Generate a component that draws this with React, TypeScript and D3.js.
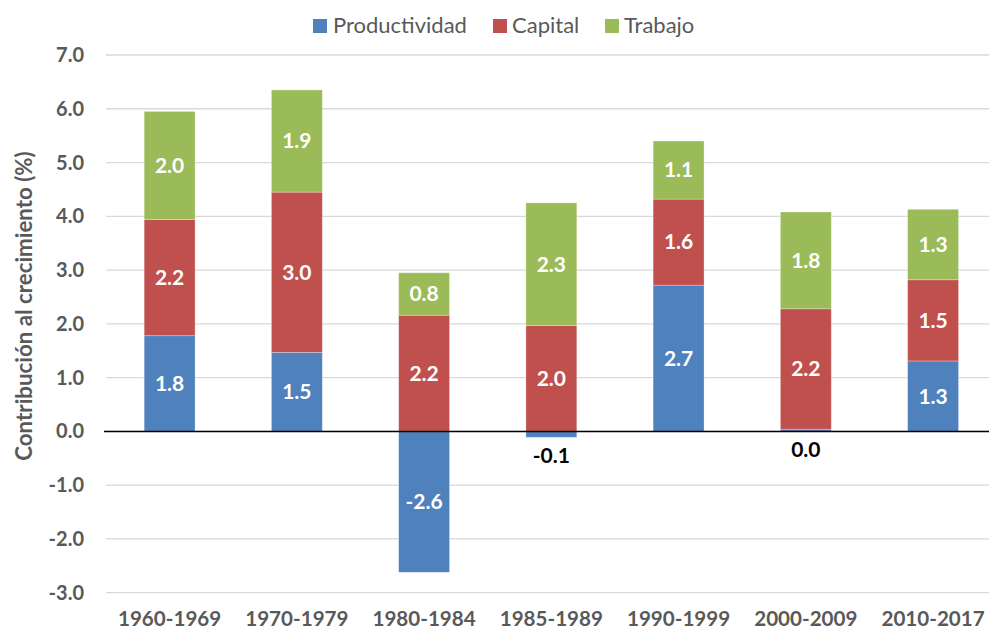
import React from "react";
import * as d3 from "d3";

const categories = ["1960-1969", "1970-1979", "1980-1984", "1985-1989", "1990-1999", "2000-2009", "2010-2017"];
const productividad = [1.78, 1.47, -2.62, -0.11, 2.72, 0.04, 1.31];
const capital = [2.16, 2.98, 2.16, 1.97, 1.6, 2.24, 1.51];
const trabajo = [2.01, 1.9, 0.79, 2.28, 1.08, 1.8, 1.31];
const yTicks = [-3, -2, -1, 0, 1, 2, 3, 4, 5, 6, 7];
const seriesNames = ["Productividad", "Capital", "Trabajo"];
const colors = ["#4F81BD", "#C0504D", "#9BBB59"];

const W = 989;
const H = 632;
const FONT = "Lato, 'Open Sans', sans-serif";

export default function App() {
  const x = d3.scaleBand<string>().domain(categories).range([106, 996.7]).paddingInner(0.6).paddingOuter(0.3);
  const y = d3.scaleLinear().domain([-3, 7]).range([592.7, 55]);
  const series = [productividad, capital, trabajo];

  type Seg = { cat: string; s: number; y0: number; y1: number; v: number };
  const segs: Seg[] = [];
  categories.forEach((c, i) => {
    let pos = 0;
    let neg = 0;
    series.forEach((arr, s) => {
      const v = arr[i];
      if (v >= 0) {
        segs.push({ cat: c, s, y0: pos, y1: pos + v, v });
        pos += v;
      } else {
        segs.push({ cat: c, s, y0: neg + v, y1: neg, v });
        neg += v;
      }
    });
  });

  const bw = x.bandwidth();
  const legendItems = [
    { sq: 313, tx: 333 },
    { sq: 493, tx: 512 },
    { sq: 605, tx: 624 },
  ];

  return (
    <svg width={W} height={H} style={{ position: "absolute", left: 0, top: 0, background: "#fff" }}>
      {yTicks.map((t) => (
        <line key={t} x1={106} x2={W} y1={y(t)} y2={y(t)} stroke="#D9D9D9" strokeWidth={1.3} />
      ))}
      {yTicks.map((t) => (
        <text key={"l" + t} x={84} y={y(t)} dy="0.35em" textAnchor="end" fontFamily={FONT} fontWeight="bold" fontSize={20} fill="#595959">
          {t.toFixed(1)}
        </text>
      ))}
      {segs.map((d, i) => (
        <rect
          key={i}
          x={x(d.cat)!}
          width={bw}
          y={y(d.y1)}
          height={Math.max(0.8, y(d.y0) - y(d.y1))}
          fill={colors[d.s]}
          stroke="#ffffff"
          strokeOpacity={0.35}
          strokeWidth={0.8}
        />
      ))}
      <line x1={104} x2={W} y1={y(0)} y2={y(0)} stroke="#000" strokeWidth={1.5} />
      {segs.map((d, i) => {
        const cx = x(d.cat)! + bw / 2;
        const small = Math.abs(d.v) < 0.3;
        const ly = small ? y(Math.min(d.y0, 0)) + 18 : (y(d.y0) + y(d.y1)) / 2;
        return (
          <text
            key={"t" + i}
            x={cx}
            y={ly}
            dy="0.35em"
            textAnchor="middle"
            fontFamily={FONT}
            fontWeight="bold"
            fontSize={21}
            fill={small ? "#000" : "#fff"}
          >
            {d.v.toFixed(1)}
          </text>
        );
      })}
      {categories.map((c) => (
        <text key={c} x={x(c)! + bw / 2} y={626} textAnchor="middle" fontFamily={FONT} fontWeight="bold" fontSize={20.6} fill="#595959">
          {c}
        </text>
      ))}
      <text
        transform={`translate(24,306) rotate(-90)`}
        textAnchor="middle"
        dy="0.35em"
        fontFamily={FONT}
        fontWeight="bold"
        fontSize={22.3}
        fill="#595959"
      >
        Contribución al crecimiento (%)
      </text>
      {seriesNames.map((n, i) => (
        <g key={n}>
          <rect x={legendItems[i].sq} y={19} width={14} height={14} fill={colors[i]} />
          <text x={legendItems[i].tx} y={32.5} fontFamily={FONT} fontSize={22} fill="#595959">
            {n}
          </text>
        </g>
      ))}
    </svg>
  );
}
